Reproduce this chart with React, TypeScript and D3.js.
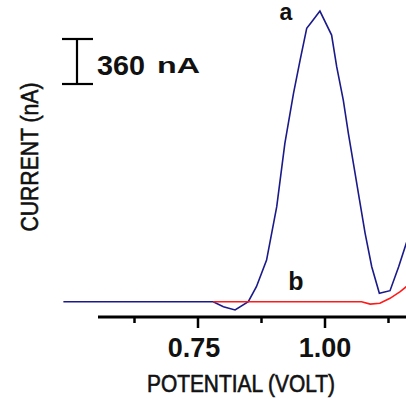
import React from "react";
import * as d3 from "d3";

// Curve a (blue) – potential (V) and current (nA)
const potentialA = [0.485, 0.78, 0.8, 0.823, 0.849, 0.865, 0.885, 0.905, 0.921, 0.938, 0.951, 0.964, 0.974, 0.99, 1.013, 1.023, 1.036, 1.046, 1.057, 1.068, 1.079, 1.092, 1.107, 1.128, 1.145, 1.16, 1.175];
const currentA = [0, 0, -40, -66, 0, 120, 333, 760, 1267, 1667, 1933, 2187, 2240, 2325, 2133, 1880, 1613, 1347, 1080, 813, 547, 280, 67, 88, 280, 467, 650];
// Curve b (red)
const potentialB = [0.78, 1.072, 1.089, 1.108, 1.128, 1.148, 1.16, 1.175];
const currentB = [0, 0, -19, -13, 27, 80, 120, 180];

const majorTicks = [0.75, 1.0];
const minorTicks = [0.625, 0.875, 1.125];
const tickLabels = ["0.75", "1.00"];
const scaleBarValue = 360;

const W = 406;
const H = 403;

export default function App() {
  const x = d3.scaleLinear().domain([0.75, 1.0]).range([198, 325]);
  const y = d3.scaleLinear().domain([0, 360]).range([301.7, 256.7]);

  const line = d3
    .line<[number, number]>()
    .x((d) => x(d[0]))
    .y((d) => y(d[1]))
    .curve(d3.curveLinear);

  const dataA = potentialA.map((p, i) => [p, currentA[i]] as [number, number]);
  const dataB = potentialB.map((p, i) => [p, currentB[i]] as [number, number]);

  const axisY = 317;
  const barTop = 39;
  const barH = y(0) - y(scaleBarValue);
  const font = "'Liberation Sans', Arial, sans-serif";

  return (
    <svg
      width={W}
      height={H}
      style={{ position: "absolute", left: 0, top: 0, background: "#fff" }}
      fontFamily={font}
    >
      <defs>
        <clipPath id="plotclip">
          <rect x={0} y={0} width={W} height={H} />
        </clipPath>
      </defs>
      <g clipPath="url(#plotclip)">
        <path d={line(dataA) || ""} fill="none" stroke="#1a1a8a" strokeWidth={1.6} />
        <path d={line(dataB) || ""} fill="none" stroke="#ff1a1a" strokeWidth={1.6} />
      </g>

      {/* x axis */}
      <line x1={98} x2={W} y1={axisY} y2={axisY} stroke="#000" strokeWidth={3} />
      {majorTicks.map((t) => (
        <line key={"M" + t} x1={x(t)} x2={x(t)} y1={axisY} y2={axisY + 11} stroke="#000" strokeWidth={2.5} />
      ))}
      {minorTicks.map((t) => (
        <line key={"m" + t} x1={x(t)} x2={x(t)} y1={axisY} y2={axisY + 6} stroke="#000" strokeWidth={2.5} />
      ))}
      {majorTicks.map((t, i) => (
        <text key={"l" + t} x={x(t) - 4 + i * 4} y={357} textAnchor="middle" fontSize={27} fontWeight="bold" fill="#111">
          {tickLabels[i]}
        </text>
      ))}

      <text x={241} y={392} textAnchor="middle" fontSize={23} fill="#111" stroke="#111" strokeWidth={0.6} textLength={188} lengthAdjust="spacingAndGlyphs">
        POTENTIAL (VOLT)
      </text>
      <text
        transform="translate(38,157) rotate(-90)"
        textAnchor="middle"
        fontSize={23}
        fill="#111"
        stroke="#111"
        strokeWidth={0.6}
        textLength={149}
        lengthAdjust="spacingAndGlyphs"
      >
        CURRENT (nA)
      </text>

      {/* scale bar */}
      <line x1={62} x2={93} y1={barTop} y2={barTop} stroke="#000" strokeWidth={2.2} />
      <line x1={77} x2={77} y1={barTop} y2={barTop + barH} stroke="#000" strokeWidth={2.2} />
      <line x1={62} x2={93} y1={barTop + barH} y2={barTop + barH} stroke="#000" strokeWidth={2.2} />
      <text x={97} y={75} fontSize={27} fontWeight="bold" fill="#111" textLength={48} lengthAdjust="spacingAndGlyphs">
        {String(scaleBarValue)}
      </text>
      <text x={157} y={73} fontSize={22} fontWeight="bold" fill="#111" textLength={43} lengthAdjust="spacingAndGlyphs">
        nA
      </text>

      {/* curve labels */}
      <text x={286} y={20} textAnchor="middle" fontSize={23} fontWeight="bold" fill="#111">
        a
      </text>
      <text x={296} y={290} textAnchor="middle" fontSize={25} fontWeight="bold" fill="#111">
        b
      </text>
    </svg>
  );
}
